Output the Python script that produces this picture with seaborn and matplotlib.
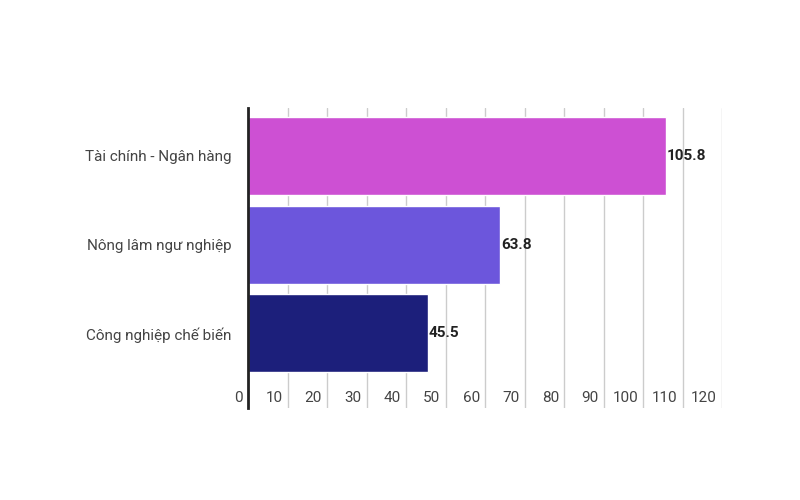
import matplotlib
matplotlib.use("Agg")
import matplotlib.pyplot as plt
import matplotlib.transforms as mtrans
import seaborn as sns
import pandas as pd

categories = ["Tài chính - Ngân hàng", "Nông lâm ngư nghiệp", "Công nghiệp chế biến"]
values = [105.8, 63.8, 45.5]
colors = ["#CD50D3", "#6C56DC", "#1C1F7B"]
ticks = [0, 10, 20, 30, 40, 50, 60, 70, 80, 90, 100, 110, 120]

sns.set_theme(style="white")
plt.rcParams['font.family'] = ['Roboto', 'DejaVu Sans']

df = pd.DataFrame({"cat": categories, "val": values})
fig = plt.figure(figsize=(8, 5), dpi=100)
ax = fig.add_axes([0.31, 0.184, 0.5925, 0.60])
sns.barplot(data=df, x="val", y="cat", hue="cat", palette=colors, legend=False,
            width=0.88, ax=ax, saturation=1)
ax.set_xlim(0, 120)
ax.set_ylim(2.84, -0.54)
ax.set_xticks(ticks)
ax.xaxis.grid(True, color="#cccccc", linewidth=1)
ax.set_axisbelow(True)
ax.tick_params(axis="x", labelbottom=False, length=0)
ax.tick_params(axis="y", length=0, labelsize=11, labelcolor="#444444", pad=12)
ax.set_xlabel(""); ax.set_ylabel("")
for s in ["top", "right", "bottom"]:
    ax.spines[s].set_visible(False)
ax.spines["left"].set_color("#222222")
ax.spines["left"].set_linewidth(2)

tr = mtrans.blended_transform_factory(ax.transData, ax.transAxes) + \
    mtrans.ScaledTranslation(-5/100, 0, fig.dpi_scale_trans)
for t in ticks:
    ax.text(t, 0.033, str(t), transform=tr, ha="right", va="center",
            fontsize=11, color="#444444")
for i, v in enumerate(values):
    ax.text(v + 0.3, i, f"{v}", ha="left", va="center", fontsize=11,
            fontweight="bold", color="#222222")
fig.savefig("out.png", dpi=100)
